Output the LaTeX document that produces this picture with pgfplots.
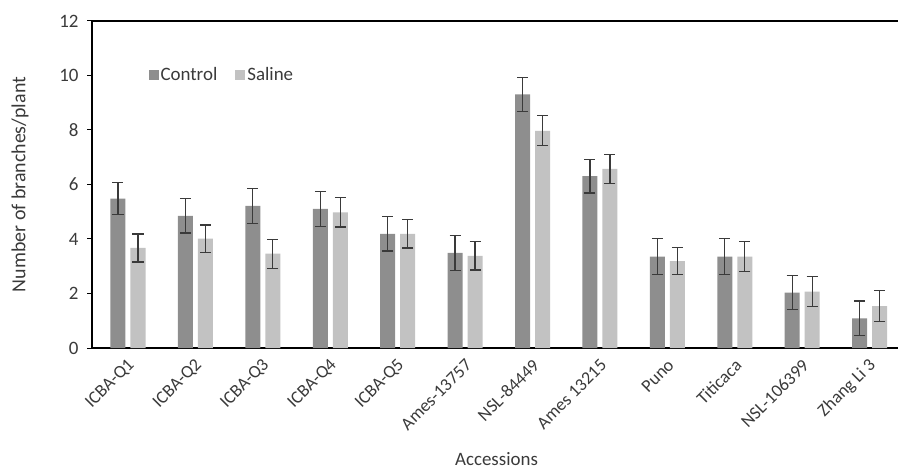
\documentclass[border=0pt]{standalone}
\usepackage{fontspec}
\setmainfont{Carlito}
\usepackage{pgfplots}
\usepackage{pgfplotstable}
\pgfplotsset{compat=1.18}
\definecolor{ctrl}{HTML}{8E8E8E}
\definecolor{sal}{HTML}{C2C2C2}
\definecolor{errc}{HTML}{3A3A3A}
\definecolor{txt}{HTML}{3A3A3A}
\pgfplotstableread{
x y e
0 5.48 0.59
1 4.85 0.63
2 5.22 0.64
3 5.11 0.64
4 4.19 0.63
5 3.49 0.64
6 9.31 0.62
7 6.31 0.62
8 3.35 0.66
9 3.35 0.66
10 2.03 0.62
11 1.09 0.63
}\controltab
\pgfplotstableread{
x y e
0 3.67 0.51
1 4.01 0.50
2 3.46 0.53
3 4.98 0.54
4 4.19 0.52
5 3.38 0.52
6 7.97 0.55
7 6.57 0.53
8 3.19 0.50
9 3.35 0.55
10 2.07 0.55
11 1.54 0.58
}\salinetab
\begin{document}
\begin{tikzpicture}
\path[use as bounding box] (-92bp,-121bp) rectangle (806bp,348bp);
\begin{axis}[
  scale only axis,
  width=809bp, height=327bp,
  xmin=-0.534, xmax=11.466,
  ymin=0, ymax=12,
  ytick={0,2,...,12},
  ytick pos=left,
  tick align=outside,
  major tick length=5bp,
  ytick style={line width=1bp, color=black},
  xtick=data,
  xtick style={draw=none},
  xticklabels={ICBA-Q1,ICBA-Q2,ICBA-Q3,ICBA-Q4,ICBA-Q5,Ames-13757,NSL-84449,Ames 13215,Puno,Titicaca,NSL-106399,Zhang Li 3},
  xticklabel style={xshift=6bp, rotate=45, anchor=east, font=\fontsize{18}{21}\selectfont, text=txt},
  xticklabel shift=7bp,
  yticklabel style={font=\fontsize{19}{22}\selectfont, text=txt},
  yticklabel shift=5bp,
  /pgf/number format/assume math mode=true,
  axis line style={line width=2bp},
  ybar=5bp,
  bar width=15bp,
  xlabel={Accessions},
  ylabel={Number of branches/plant},
  xlabel style={at={(axis description cs:0.5,-0.34)}, anchor=center, font=\fontsize{19}{22}\selectfont, text=txt},
  ylabel style={at={(axis description cs:-0.089,0.5)}, anchor=center, font=\fontsize{20}{23}\selectfont, text=txt},
  legend style={draw=none, fill=none, at={(axis description cs:0.066,0.835)}, anchor=west, legend columns=2, font=\fontsize{19}{22}\selectfont, text=txt, /tikz/every even column/.append style={column sep=16bp}},
  legend image code/.code={\fill[#1] (0bp,-5bp) rectangle (10bp,5bp);},
]
\addplot+[draw=none, fill=ctrl, mark=none,
  error bars/.cd, y dir=both, y explicit,
  error bar style={line width=1.3bp, color=errc},
  error mark options={rotate=90, mark size=5.5bp, line width=1.3bp, color=errc}]
  table[x=x, y=y, y error=e] {\controltab};
\addlegendentry{Control}
\addplot+[draw=none, fill=sal, mark=none,
  error bars/.cd, y dir=both, y explicit,
  error bar style={line width=1.3bp, color=errc},
  error mark options={rotate=90, mark size=5.5bp, line width=1.3bp, color=errc}]
  table[x=x, y=y, y error=e] {\salinetab};
\addlegendentry{Saline}
\end{axis}
\end{tikzpicture}
\end{document}
